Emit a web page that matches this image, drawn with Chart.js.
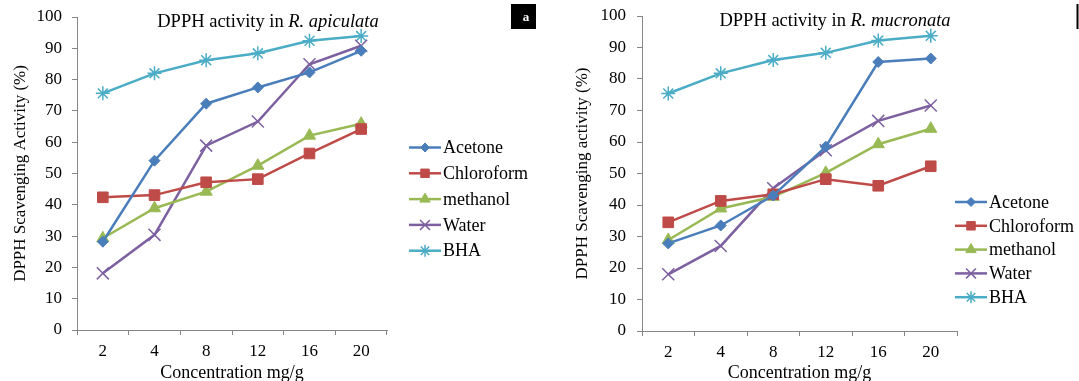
<!DOCTYPE html>
<html><head><meta charset="utf-8">
<script src="https://cdn.jsdelivr.net/npm/chart.js@4/dist/chart.umd.min.js"></script>
<style>
html,body{margin:0;padding:0;background:#fff;overflow:hidden}
#wrap{position:relative;width:1079px;height:381px;background:#fff}
.box{position:absolute;top:0;height:381px}
canvas{display:block}
</style></head><body>
<div id="wrap">
<div class="box" style="left:0;width:540px"><canvas id="c1" width="540" height="381"></canvas></div>
<div class="box" style="left:540px;width:539px"><canvas id="c2" width="539" height="381"></canvas></div>
</div>
<script>
// ---- data ----
const categories = ['2', '4', '8', '12', '16', '20'];
const seriesNames = ['Acetone', 'Chloroform', 'methanol', 'Water', 'BHA'];
const yTicks = [0, 10, 20, 30, 40, 50, 60, 70, 80, 90, 100];

// R. apiculata
const apiculataAcetone    = [28.2, 54.1, 72.3, 77.5, 82.3, 89.2];
const apiculataChloroform = [42.4, 43.1, 47.2, 48.2, 56.4, 64.2];
const apiculataMethanol   = [29.3, 38.9, 44.2, 52.5, 62.1, 65.9];
const apiculataWater      = [18.1, 30.4, 58.9, 66.6, 84.9, 90.8];
const apiculataBHA        = [75.6, 82.0, 86.2, 88.4, 92.4, 93.9];

// R. mucronata
const mucronataAcetone    = [27.8, 33.5, 43.0, 58.5, 85.4, 86.5];
const mucronataChloroform = [34.5, 41.3, 43.4, 48.2, 46.1, 52.3];
const mucronataMethanol   = [28.9, 38.9, 42.6, 50.2, 59.3, 64.2];
const mucronataWater      = [18.0, 27.0, 45.3, 57.4, 66.7, 71.6];
const mucronataBHA        = [75.4, 81.8, 86.0, 88.3, 92.2, 93.7];

// ---- styles ----
const colors = ['#4a7ebb', '#be4b48', '#98b954', '#7d60a0', '#4bacc6'];
const pStyles = ['rectRot', 'rect', 'triangle', 'crossRot', 'star'];
const pRadii = [5.5, 7.5, 7, 8.5, 7];
const pBorder = [1, 1, 1, 1.5, 1.5];
const legRadii = [4.5, 6, 6, 7, 6];
const FONT = '"Liberation Serif", "Times New Roman", serif';

Chart.defaults.font.family = FONT;
Chart.defaults.color = '#000';

const overlay = {
  id: 'overlay',
  afterDraw(chart, args, o) {
    const ctx = chart.ctx;
    ctx.save();
    // title with italic species name
    const p1 = 'DPPH activity in ';
    ctx.font = o.titleSize + 'px ' + FONT;
    const w1 = ctx.measureText(p1).width;
    ctx.font = 'italic ' + o.titleSize + 'px ' + FONT;
    const w2 = ctx.measureText(o.species).width;
    const x0 = o.titleX - (w1 + w2) / 2;
    ctx.fillStyle = '#000';
    ctx.textAlign = 'left';
    ctx.textBaseline = 'alphabetic';
    ctx.font = o.titleSize + 'px ' + FONT;
    ctx.fillText(p1, x0, o.titleY);
    ctx.font = 'italic ' + o.titleSize + 'px ' + FONT;
    ctx.fillText(o.species, x0 + w1, o.titleY);
    // legend
    chart.data.datasets.forEach((ds, i) => {
      const y = o.legY + i * o.legStep;
      ctx.strokeStyle = ds.borderColor;
      ctx.lineWidth = 2.5;
      ctx.beginPath();
      ctx.moveTo(o.legX, y);
      ctx.lineTo(o.legX + 32, y);
      ctx.stroke();
      ctx.fillStyle = ds.borderColor;
      ctx.lineWidth = ds.pointBorderWidth;
      Chart.helpers.drawPoint(ctx, {pointStyle: ds.pointStyle, radius: legRadii[i], borderWidth: ds.pointBorderWidth, rotation: 0}, o.legX + 16, y);
      ctx.fillStyle = '#000';
      ctx.font = '18px ' + FONT;
      ctx.textBaseline = 'middle';
      ctx.fillText(ds.label, o.legX + 34, y + 1);
    });
    // corner marks
    if (o.corner === 'a') {
      ctx.fillStyle = '#000';
      ctx.fillRect(511, 4, 25, 25);
      ctx.fillStyle = '#fff';
      ctx.font = 'bold 13px ' + FONT;
      ctx.textAlign = 'center';
      ctx.textBaseline = 'alphabetic';
      ctx.fillText('a', 526, 21);
    } else if (o.corner === 'bar') {
      ctx.fillStyle = '#000';
      ctx.fillRect(536.5, 4, 2, 25);
    }
    ctx.restore();
  }
};

function makeChart(id, seriesData, cfg) {
  return new Chart(document.getElementById(id), {
    type: 'line',
    data: {
      labels: categories,
      datasets: seriesNames.map((n, i) => ({
        label: n,
        data: seriesData[i],
        borderColor: colors[i],
        backgroundColor: colors[i],
        pointBackgroundColor: colors[i],
        pointBorderColor: colors[i],
        pointStyle: pStyles[i],
        pointRadius: pRadii[i],
        pointBorderWidth: pBorder[i],
        borderWidth: 2.5,
        tension: 0
      }))
    },
    options: {
      responsive: false,
      animation: false,
      devicePixelRatio: 1,
      layout: {padding: {left: cfg.padL, right: cfg.padR, top: cfg.padT, bottom: 0}},
      plugins: {
        legend: {display: false},
        tooltip: {enabled: false},
        overlay: cfg.overlay
      },
      scales: {
        x: {
          offset: true,
          grid: {offset: true, drawOnChartArea: false, drawTicks: true, tickLength: 5, color: '#868686'},
          border: {color: '#868686'},
          ticks: {font: {size: 17}, color: '#000', padding: 6, maxRotation: 0},
          title: {display: true, text: 'Concentration mg/g', font: {size: 18}, color: '#000', padding: {top: 0, bottom: -3}},
          afterFit(s) { s.height = cfg.xH; s.paddingLeft = 0; s.paddingRight = 0; }
        },
        y: {
          min: 0, max: 100,
          afterBuildTicks(s) { s.ticks = yTicks.map(v => ({value: v})); },
          grid: {drawOnChartArea: false, drawTicks: true, tickLength: 5, color: '#868686'},
          border: {color: '#868686'},
          ticks: {font: {size: 17}, color: '#000', padding: cfg.tickPad},
          title: {display: true, text: cfg.yTitle, font: {size: 17}, color: '#000', padding: {top: 0, bottom: 0}},
          afterFit(s) { s.width = cfg.yW; s.paddingTop = 0; s.paddingBottom = 0; }
        }
      }
    },
    plugins: [overlay]
  });
}

makeChart('c1',
  [apiculataAcetone, apiculataChloroform, apiculataMethanol, apiculataWater, apiculataBHA],
  {padL: 10, yW: 67, padR: 153, padT: 17, xH: 51, tickPad: 10, yTitle: 'DPPH Scavenging Activity (%)',
   overlay: {species: 'R. apiculata', titleX: 268, titleY: 27, titleSize: 18.5, legX: 409, legY: 147.5, legStep: 25.8, corner: 'a'}});

makeChart('c2',
  [mucronataAcetone, mucronataChloroform, mucronataMethanol, mucronataWater, mucronataBHA],
  {padL: 32, yW: 70, padR: 122, padT: 16, xH: 50, tickPad: 11, yTitle: 'DPPH Scavenging activity (%)',
   overlay: {species: 'R. mucronata', titleX: 295, titleY: 26, titleSize: 18.5, legX: 415, legY: 202, legStep: 23.8, corner: 'bar'}});
</script>
</body></html>
